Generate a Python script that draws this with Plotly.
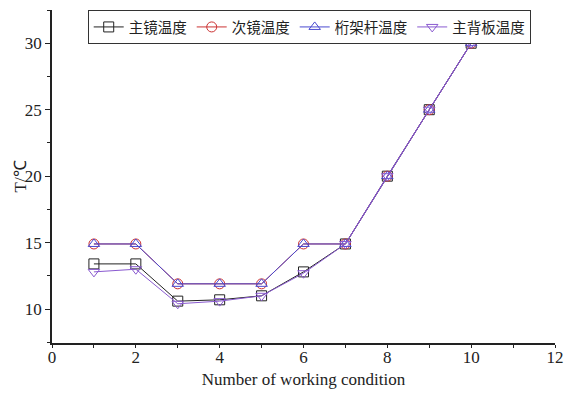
import plotly.graph_objects as go

conditions = [1, 2, 3, 4, 5, 6, 7, 8, 9, 10]
primary_mirror = [13.4, 13.4, 10.6, 10.7, 11.0, 12.8, 14.9, 20.0, 25.0, 30.0]
secondary_mirror = [14.9, 14.9, 11.9, 11.9, 11.9, 14.9, 14.9, 20.0, 25.0, 30.0]
truss_rod = [14.9, 14.9, 11.9, 11.9, 11.9, 14.9, 14.9, 20.0, 25.0, 30.0]
back_plate = [12.8, 13.0, 10.4, 10.6, 11.0, 12.7, 14.9, 20.0, 25.0, 30.0]
names = ["主镜温度", "次镜温度", "桁架杆温度", "主背板温度"]

series = [
    (primary_mirror, "#222222", "square-open"),
    (secondary_mirror, "#cc3333", "circle-open"),
    (truss_rod, "#4a4ad0", "triangle-up-open"),
    (back_plate, "#8a5ad0", "triangle-down-open"),
]

fig = go.Figure()
for (vals, color, sym), name in zip(series, names):
    fig.add_trace(go.Scatter(
        x=conditions, y=vals, name=name, mode="lines+markers",
        line=dict(color=color, width=1),
        marker=dict(symbol=sym, size=10, color=color, line=dict(width=1, color=color)),
    ))

serif = "Liberation Serif, Times New Roman, serif"
fig.update_layout(
    width=564, height=393,
    margin=dict(l=52, r=9, t=10, b=50, autoexpand=False),
    paper_bgcolor="white", plot_bgcolor="white",
    showlegend=True,
    legend=dict(
        orientation="h", x=0.071, y=1.0, xanchor="left", yanchor="top",
        bordercolor="#333333", borderwidth=1, bgcolor="white",
        font=dict(family="Noto Sans CJK SC", size=14.5, color="#222222"),
        itemwidth=30, tracegroupgap=0,
    ),
    xaxis=dict(
        range=[0, 12], dtick=2, tick0=0, showgrid=False, zeroline=False,
        automargin=False,
        showline=True, linecolor="#222222", linewidth=1.5,
        ticks="outside", ticklen=3, tickcolor="#222222",
        minor=dict(dtick=1, ticks="outside", ticklen=3, tickcolor="#222222"),
        tickfont=dict(family=serif, size=17, color="#222222"),
        ticklabelstandoff=-5,
        title=dict(text="Number of working condition", font=dict(family=serif, size=17, color="#222222"), standoff=7),
    ),
    yaxis=dict(
        range=[7.45, 32.5], tickvals=[10, 15, 20, 25, 30], showgrid=False, zeroline=False,
        automargin=False,
        showline=True, linecolor="#222222", linewidth=1.5,
        ticks="outside", ticklen=5, tickcolor="#222222",
        minor=dict(tickvals=[7.5, 12.5, 17.5, 22.5, 27.5, 32.5], ticks="outside", ticklen=3, tickcolor="#222222"),
        tickfont=dict(family=serif, size=17, color="#222222"),
        ticklabelstandoff=0,
    ),
    annotations=[dict(
        text="T/℃", xref="paper", yref="paper", x=-32 / 503, y=0.5,
        xanchor="center", yanchor="middle", textangle=-90, showarrow=False,
        font=dict(family=serif, size=17, color="#222222"),
    )],
)

fig.write_html(
    "out.html",
    config={"displayModeBar": False},
    post_script="document.body.style.margin='0';document.body.style.overflow='hidden';",
)
